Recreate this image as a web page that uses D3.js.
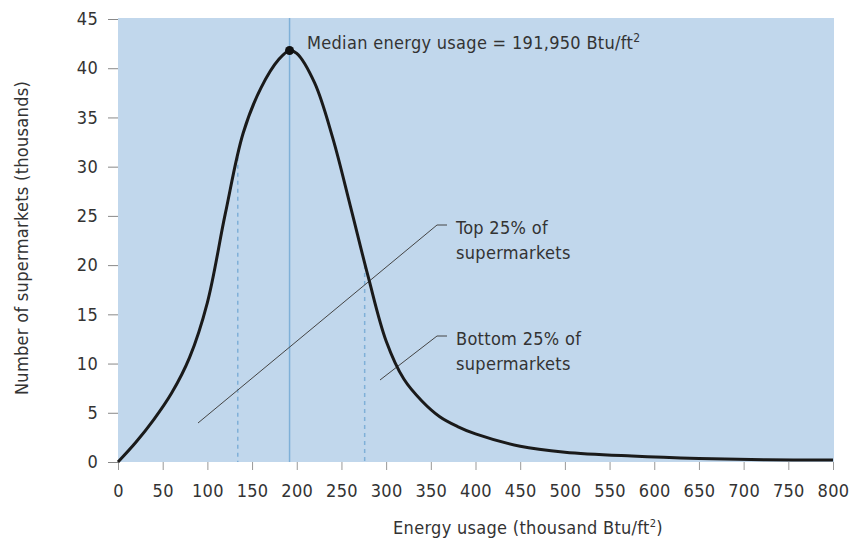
<!DOCTYPE html>
<html><head><meta charset="utf-8">
<script src="https://cdn.jsdelivr.net/npm/d3@7/dist/d3.min.js"></script>
<style>
body{margin:0;background:#fff;}
text{font-family:"DejaVu Sans Condensed","Liberation Sans Narrow","Liberation Sans",sans-serif;fill:#333;letter-spacing:0.3px;}
</style></head><body>
<svg id="chart" width="852" height="546"></svg>
<script>
// Data (thousand Btu/ft2 vs. thousands of supermarkets)
const energy = [0,20,40,60,80,100,120,140,160,180,192,200,220,240,260,280,300,320,340,360,380,400,450,500,575,650,725,800];
const count  = [0,2.0,4.3,7.0,10.6,16.2,25.2,33.4,38.0,40.9,41.8,41.5,38.5,33.0,26.0,18.8,12.3,8.4,6.2,4.6,3.6,2.85,1.6,1.0,0.6,0.35,0.22,0.2];
const xTicks = [0,50,100,150,200,250,300,350,400,450,500,550,600,650,700,750,800];
const yTicks = [0,5,10,15,20,25,30,35,40,45];
const median = 191.95;
const peakCount = 41.8;
const quartiles = [134, 276];
const quartileCounts = [31.0, 20.0];

const svg = d3.select("#chart");
const m = {l:118, r:834, t:19, b:462};
const FS = 18;
const x = d3.scaleLinear().domain([0,800]).range([m.l, m.r-1]);
const y = d3.scaleLinear().domain([0,45]).range([m.b, m.t]);

svg.append("rect").attr("x",m.l).attr("y",m.t-1).attr("width",m.r-m.l).attr("height",m.b-m.t+1).attr("fill","#c1d7ec");

// axes
const ya = svg.append("g").attr("transform",`translate(${m.l},0)`)
  .call(d3.axisLeft(y).tickValues(yTicks).tickSize(10).tickPadding(10));
ya.select(".domain").remove();
ya.selectAll("line").attr("stroke","#888");
ya.selectAll("text").attr("font-size",FS).attr("fill","#333");

const xa = svg.append("g").attr("transform",`translate(0,${m.b})`)
  .call(d3.axisBottom(x).tickValues(xTicks).tickSize(8).tickPadding(14));
xa.select(".domain").remove();
xa.selectAll("line").attr("stroke","#999");
xa.selectAll("text").attr("font-size",FS).attr("fill","#333");

// median line
svg.append("line").attr("x1",x(median)).attr("x2",x(median)).attr("y1",m.t-1).attr("y2",m.b)
  .attr("stroke","#7fb0d8").attr("stroke-width",1.5);
// quartile dashed lines
quartiles.forEach((q,i)=>{
  svg.append("line").attr("x1",x(q)).attr("x2",x(q)).attr("y1",y(quartileCounts[i])).attr("y2",m.b)
    .attr("stroke","#7fb0d8").attr("stroke-width",1.5).attr("stroke-dasharray","4,4");
});

// leader lines
svg.append("polyline").attr("points",[[198,423],[437,225],[447,225]].join(" "))
  .attr("fill","none").attr("stroke","#444").attr("stroke-width",1);
svg.append("polyline").attr("points",[[380,380],[437,336],[447,336]].join(" "))
  .attr("fill","none").attr("stroke","#444").attr("stroke-width",1);

// curve
const pts = energy.map((e,i)=>[e,count[i]]);
svg.append("path").datum(pts)
  .attr("d", d3.line().x(d=>x(d[0])).y(d=>y(d[1])).curve(d3.curveCatmullRom.alpha(0.5)))
  .attr("fill","none").attr("stroke","#1a1a1a").attr("stroke-width",3);

svg.append("circle").attr("cx",x(median)).attr("cy",y(peakCount)).attr("r",4.5).attr("fill","#111");

// labels
const ml = svg.append("text").attr("x",307).attr("y",49).attr("font-size",FS);
ml.append("tspan").text("Median energy usage = 191,950 Btu/ft");
ml.append("tspan").text("2").attr("font-size",12).attr("dy",-7);

function two(xp, y1, l1, l2){
  svg.append("text").attr("x",xp).attr("y",y1).attr("font-size",FS).text(l1);
  svg.append("text").attr("x",xp).attr("y",y1+25).attr("font-size",FS).text(l2);
}
two(456, 234, "Top 25% of", "supermarkets");
two(456, 345, "Bottom 25% of", "supermarkets");

// axis titles
svg.append("text").attr("transform","translate(28,238) rotate(-90)").attr("text-anchor","middle")
  .attr("font-size",FS).text("Number of supermarkets (thousands)");
const xt = svg.append("text").attr("x",528).attr("y",534).attr("text-anchor","middle").attr("font-size",FS);
xt.append("tspan").text("Energy usage (thousand Btu/ft");
xt.append("tspan").text("2").attr("font-size",11).attr("dy",-7);
xt.append("tspan").text(")").attr("dy",7);
</script></body></html>
